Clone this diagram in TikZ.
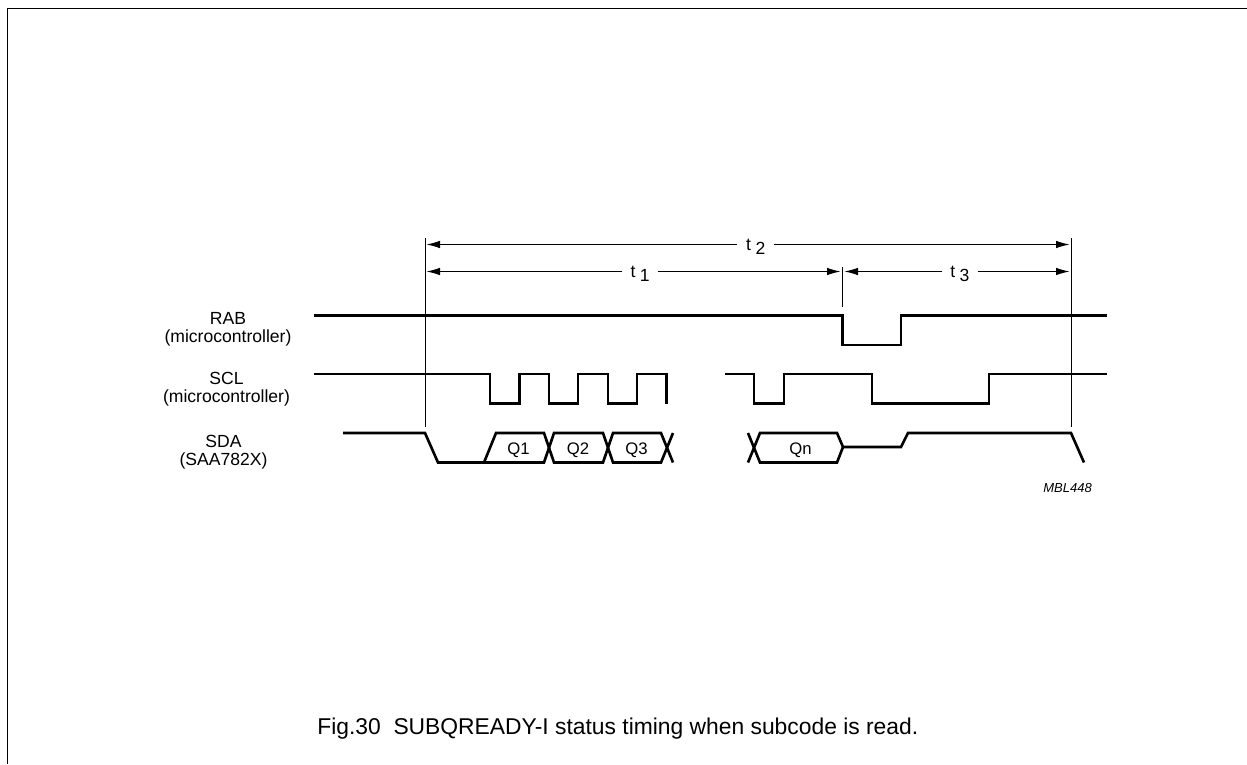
\documentclass[tikz,border=0pt]{standalone}
\usepackage{fontspec}
\setmainfont{Liberation Sans}
\usetikzlibrary{arrows.meta}
\tikzset{
	signal/.style = {line width = 1.5pt, line join = miter},
	tick/.style = {line width = 0.5pt},
	dimline/.style = {line width = 0.5pt, {Latex[length = 0.27cm, width = 0.15cm]}-{Latex[length = 0.27cm, width = 0.15cm]}},
	gaplabel/.style = {fill = white, inner xsep = 5pt, inner ysep = 0pt, yshift = -0.05cm, font = \fontsize{10}{12}\selectfont},
	siglabel/.style = {align = center, font = \fontsize{10}{10.5}\selectfont},
	datalabel/.style = {font = \fontsize{9.5}{11}\selectfont}
}
\newcommand{\tsub}[1]{t\hspace{0.09cm}\lower 0.09cm\hbox{#1}}
\begin{document}
\begin{tikzpicture}[x = 0.02cm, y = -0.02cm]
		\useasboundingbox (0,0) rectangle (1247,764);
		\draw[line width = 1pt] (1247,8.5) -- (7.5,8.5) -- (7.5,764);
		\coordinate (startTop) at (425.5,238);
		\coordinate (startEnd) at (425.5,427);
		\coordinate (stopTop) at (1071,238);
		\coordinate (stopEnd) at (1071,427);
		\coordinate (midTop) at (842.5,267);
		\coordinate (midEnd) at (842.5,307);
		\draw[tick] (startTop) -- (startEnd);
		\draw[tick] (stopTop) -- (stopEnd);
		\draw[tick] (midTop) -- (midEnd);
		\coordinate (t2a) at (426.5,244.5);
		\coordinate (t2b) at (1069.5,244.5);
		\coordinate (t1a) at (426.5,271.5);
		\coordinate (t1b) at (840.5,271.5);
		\coordinate (t3a) at (844.5,271.5);
		\coordinate (t3b) at (1069.5,271.5);
		\draw[dimline] (t2a) -- (t2b) node[gaplabel, pos = 0.512] (t2) {\tsub{2}};
		\draw[dimline] (t1a) -- (t1b) node[gaplabel, pos = 0.516] (t1) {\tsub{1}};
		\draw[dimline] (t3a) -- (t3b) node[gaplabel, pos = 0.513] (t3) {\tsub{3}};
		\node[siglabel] (rab) at (228,329) {RAB\\(microcontroller)};
		\node[siglabel] (scl) at (226.5,389) {SCL\\(microcontroller)};
		\node[siglabel] (sda) at (223.5,452) {SDA\\(SAA782X)};
		\draw[signal] (314,315.5) -- (842.5,315.5) -- (842.5,345) -- (901,345) -- (901,315.5) -- (1107,315.5);
		\draw[signal] (314,374) -- (490,374) -- (490,403.5) -- (519.5,403.5) -- (519.5,374) -- (549,374) -- (549,403.5) -- (578,403.5) -- (578,374) -- (608,374) -- (608,403.5) -- (637,403.5) -- (637,374) -- (666.5,374) -- (666.5,403.5);
		\draw[signal] (725,374) -- (754,374) -- (754,403.5) -- (784,403.5) -- (784,374) -- (872,374) -- (872,403.5) -- (989,403.5) -- (989,374) -- (1107,374);
		\draw[signal] (343,433) -- (425,433) -- (438,462.5) -- (484,462.5) -- (496,433) -- (544,433) -- (554,462.5) -- (603,462.5) -- (613,433) -- (661,433) -- (673,462.5);
		\draw[signal] (484,462.5) -- (544,462.5) -- (554,433) -- (603,433) -- (613,462.5) -- (661,462.5) -- (673,433);
		\draw[signal] (748,433) -- (760,462.5) -- (837,462.5) -- (843,447) -- (901,447) -- (908,433) -- (1071,433) -- (1084,462.5);
		\draw[signal] (748,462.5) -- (760,433) -- (837,433) -- (843,447);
		\node[datalabel] (q1) at (518.5,450) {Q1};
		\node[datalabel] (q2) at (578,450) {Q2};
		\node[datalabel] (q3) at (636.5,450) {Q3};
		\node[datalabel] (qn) at (800.5,450) {Qn};
		\node[anchor = east, font = \fontsize{7.4}{9}\selectfont\itshape] (mbl) at (1098,488) {MBL448};
		\node[anchor = base west, inner sep = 0pt, font = \fontsize{13}{15}\selectfont] (caption) at (317,734) {Fig.30\ \ SUBQREADY-I status timing when subcode is read.};
		\end{tikzpicture}
\end{document}
